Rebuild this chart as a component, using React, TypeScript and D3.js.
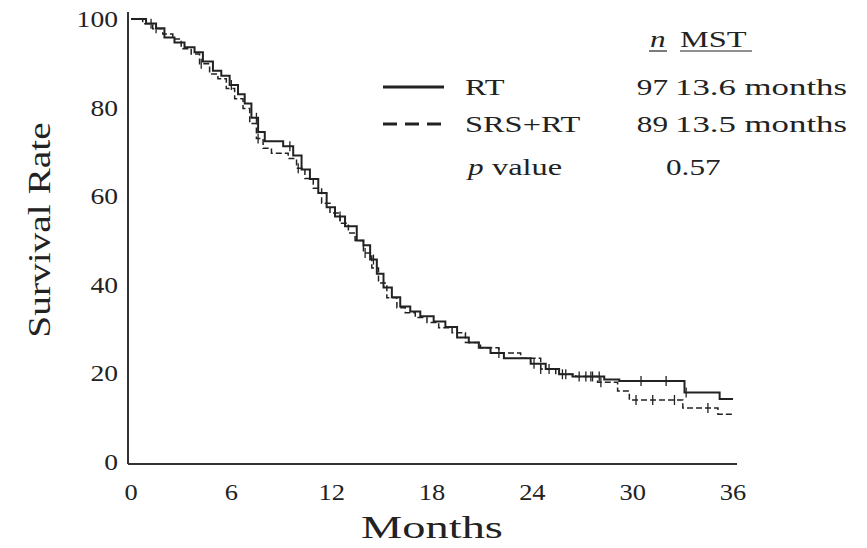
import React, { useEffect, useRef } from "react";
import * as d3 from "d3";

// Kaplan-Meier steps (months, survival %)
const rtTimes = [0, 0.9, 1.5, 2.0, 2.6, 3.2, 3.8, 4.3, 4.9, 5.4, 5.9, 6.4, 6.8, 7.2, 7.6, 8.0, 9.1, 9.7, 10.2, 10.7, 11.2, 11.7, 12.2, 12.8, 13.5, 13.9, 14.3, 14.7, 15.1, 15.6, 16.1, 16.7, 17.3, 18.1, 18.8, 19.5, 20.2, 20.8, 21.5, 22.3, 23.9, 24.8, 25.6, 26.4, 28.3, 29.2, 33.1, 35.2];
const rtSurv = [100, 99.0, 97.9, 95.8, 94.7, 93.6, 92.5, 90.4, 88.3, 87.2, 85.1, 83.0, 80.9, 77.7, 74.5, 72.4, 71.3, 69.2, 66.0, 63.9, 60.7, 57.5, 55.4, 53.2, 50.0, 48.9, 45.7, 42.5, 39.4, 37.2, 35.1, 34.0, 32.9, 31.7, 30.5, 28.1, 27.0, 25.8, 24.6, 23.4, 22.2, 21.0, 19.8, 19.3, 18.6, 18.3, 15.7, 14.2];
const rtCensor = [1.5, 6.0, 7.5, 9.5, 12.5, 14.5, 24.1, 25.0, 26.0, 27.2, 27.6, 28.0, 30.5, 32.0, 33.2];

const srsTimes = [0, 0.7, 1.3, 1.9, 2.5, 3.0, 3.6, 4.1, 4.7, 5.2, 5.7, 6.2, 6.7, 7.1, 7.5, 7.9, 8.4, 9.4, 9.9, 10.4, 10.9, 11.4, 11.9, 12.5, 13.0, 13.4, 13.9, 14.4, 14.8, 15.3, 15.9, 16.4, 17.0, 17.7, 18.4, 19.2, 20.0, 20.9, 22.0, 23.3, 24.5, 25.4, 26.6, 27.9, 29.1, 29.8, 33.0, 35.1];
const srsSurv = [100, 98.9, 97.8, 96.6, 95.5, 93.3, 92.1, 89.9, 87.6, 86.5, 84.3, 82.0, 79.8, 76.4, 73.0, 70.8, 69.7, 68.5, 66.3, 64.0, 61.8, 58.4, 56.2, 53.9, 51.7, 50.0, 47.2, 43.8, 40.4, 37.1, 34.8, 33.7, 32.6, 31.5, 30.3, 29.2, 27.0, 25.8, 24.6, 23.4, 21.0, 19.8, 19.3, 18.0, 16.0, 14.0, 12.2, 10.8];
const srsCensor = [1.2, 4.2, 7.6, 10.0, 14.0, 22.0, 24.5, 25.8, 26.8, 27.5, 28.1, 30.2, 31.2, 32.5, 34.5];

const xTicks = [0, 6, 12, 18, 24, 30, 36];
const yTicks = [0, 20, 40, 60, 80, 100];

const groups = ["RT", "SRS+RT"];
const groupN = ["97", "89"];
const groupMST = ["13.6 months", "13.5 months"];
const pValue = "0.57";

const W = 867;
const H = 548;
const FONT = "'Liberation Serif', 'DejaVu Serif', serif";
const INK = "#222";

const App = () => {
  const ref = useRef<SVGSVGElement>(null);

  useEffect(() => {
    const svg = d3.select(ref.current);
    svg.selectAll("*").remove();

    const x = d3.scaleLinear().domain([0, 36]).range([131, 733]);
    const y = d3.scaleLinear().domain([0, 100]).range([462, 19]);

    // stretched serif text, like the scanned figure
    const txt = (s: string, tx: number, ty: number, size: number, sx: number, anchor = "start") =>
      svg
        .append("text")
        .attr("transform", `translate(${tx},${ty}) scale(${sx},1)`)
        .attr("text-anchor", anchor)
        .attr("font-family", FONT)
        .attr("font-size", size)
        .attr("fill", INK)
        .text(s);

    // axes
    svg.append("line").attr("x1", 128).attr("x2", 128).attr("y1", 12).attr("y2", y(0) + 2)
      .attr("stroke", "#333").attr("stroke-width", 2);
    svg.append("line").attr("x1", 128).attr("x2", x(36) + 4).attr("y1", y(0) + 2).attr("y2", y(0) + 2)
      .attr("stroke", "#333").attr("stroke-width", 2);

    yTicks.forEach((t) => txt(String(t), 118, y(t) + 8, 23, 1.2, "end"));
    xTicks.forEach((t) => txt(String(t), x(t), 500, 23, 1.15, "middle"));

    txt("Months", 432, 538, 32, 1.45, "middle");
    svg
      .append("text")
      .attr("transform", `translate(50,230) rotate(-90) scale(1.27,1)`)
      .attr("text-anchor", "middle")
      .attr("font-family", FONT)
      .attr("font-size", 31)
      .attr("fill", INK)
      .text("Survival Rate");

    // survival curves
    const series = [
      { t: rtTimes, s: rtSurv, c: rtCensor, dash: null, w: 2 },
      { t: srsTimes, s: srsSurv, c: srsCensor, dash: "6,3", w: 1.5 },
    ];
    const line = d3
      .line<[number, number]>()
      .x((d) => x(d[0]))
      .y((d) => y(d[1]))
      .curve(d3.curveStepAfter);

    series.forEach((sr) => {
      const pts: [number, number][] = sr.t.map((t, i) => [t, sr.s[i]]);
      pts.push([36, sr.s[sr.s.length - 1]]);
      svg
        .append("path")
        .attr("d", line(pts))
        .attr("fill", "none")
        .attr("stroke", INK)
        .attr("stroke-width", sr.w)
        .attr("stroke-dasharray", sr.dash);

      const at = (t: number) => sr.s[d3.bisectRight(sr.t, t) - 1];
      svg
        .append("g")
        .selectAll("line")
        .data(sr.c)
        .join("line")
        .attr("x1", (d) => x(d))
        .attr("x2", (d) => x(d))
        .attr("y1", (d) => y(at(d)) - 5)
        .attr("y2", (d) => y(at(d)) + 5)
        .attr("stroke", INK)
        .attr("stroke-width", 1.3);
    });

    // legend
    const rows = [87, 124];
    svg.append("line").attr("x1", 383).attr("x2", 444).attr("y1", rows[0]).attr("y2", rows[0])
      .attr("stroke", INK).attr("stroke-width", 3);
    svg.append("line").attr("x1", 383).attr("x2", 444).attr("y1", rows[1]).attr("y2", rows[1])
      .attr("stroke", INK).attr("stroke-width", 3).attr("stroke-dasharray", "14,8");

    groups.forEach((g, i) => {
      txt(g, 465, rows[i] + 8, 24, 1.35);
      txt(groupN[i], 668, rows[i] + 8, 24, 1.3, "end");
      txt(groupMST[i], 675, rows[i] + 8, 24, 1.45);
    });
    txt("p", 468, 175, 24, 1.3).attr("font-style", "italic");
    txt("value", 492, 175, 24, 1.35);
    txt(pValue, 666, 175, 24, 1.3);

    txt("n", 650, 47, 24, 1.3).attr("font-style", "italic");
    txt("MST", 680, 47, 24, 1.35);
    svg.append("line").attr("x1", 649).attr("x2", 667).attr("y1", 51).attr("y2", 51).attr("stroke", INK).attr("stroke-width", 1.2);
    svg.append("line").attr("x1", 680).attr("x2", 752).attr("y1", 51).attr("y2", 51).attr("stroke", INK).attr("stroke-width", 1.2);
  }, []);

  return (
    <svg
      ref={ref}
      width={W}
      height={H}
      style={{ position: "absolute", left: 0, top: 0, display: "block", background: "#fff" }}
    />
  );
};

export default App;
